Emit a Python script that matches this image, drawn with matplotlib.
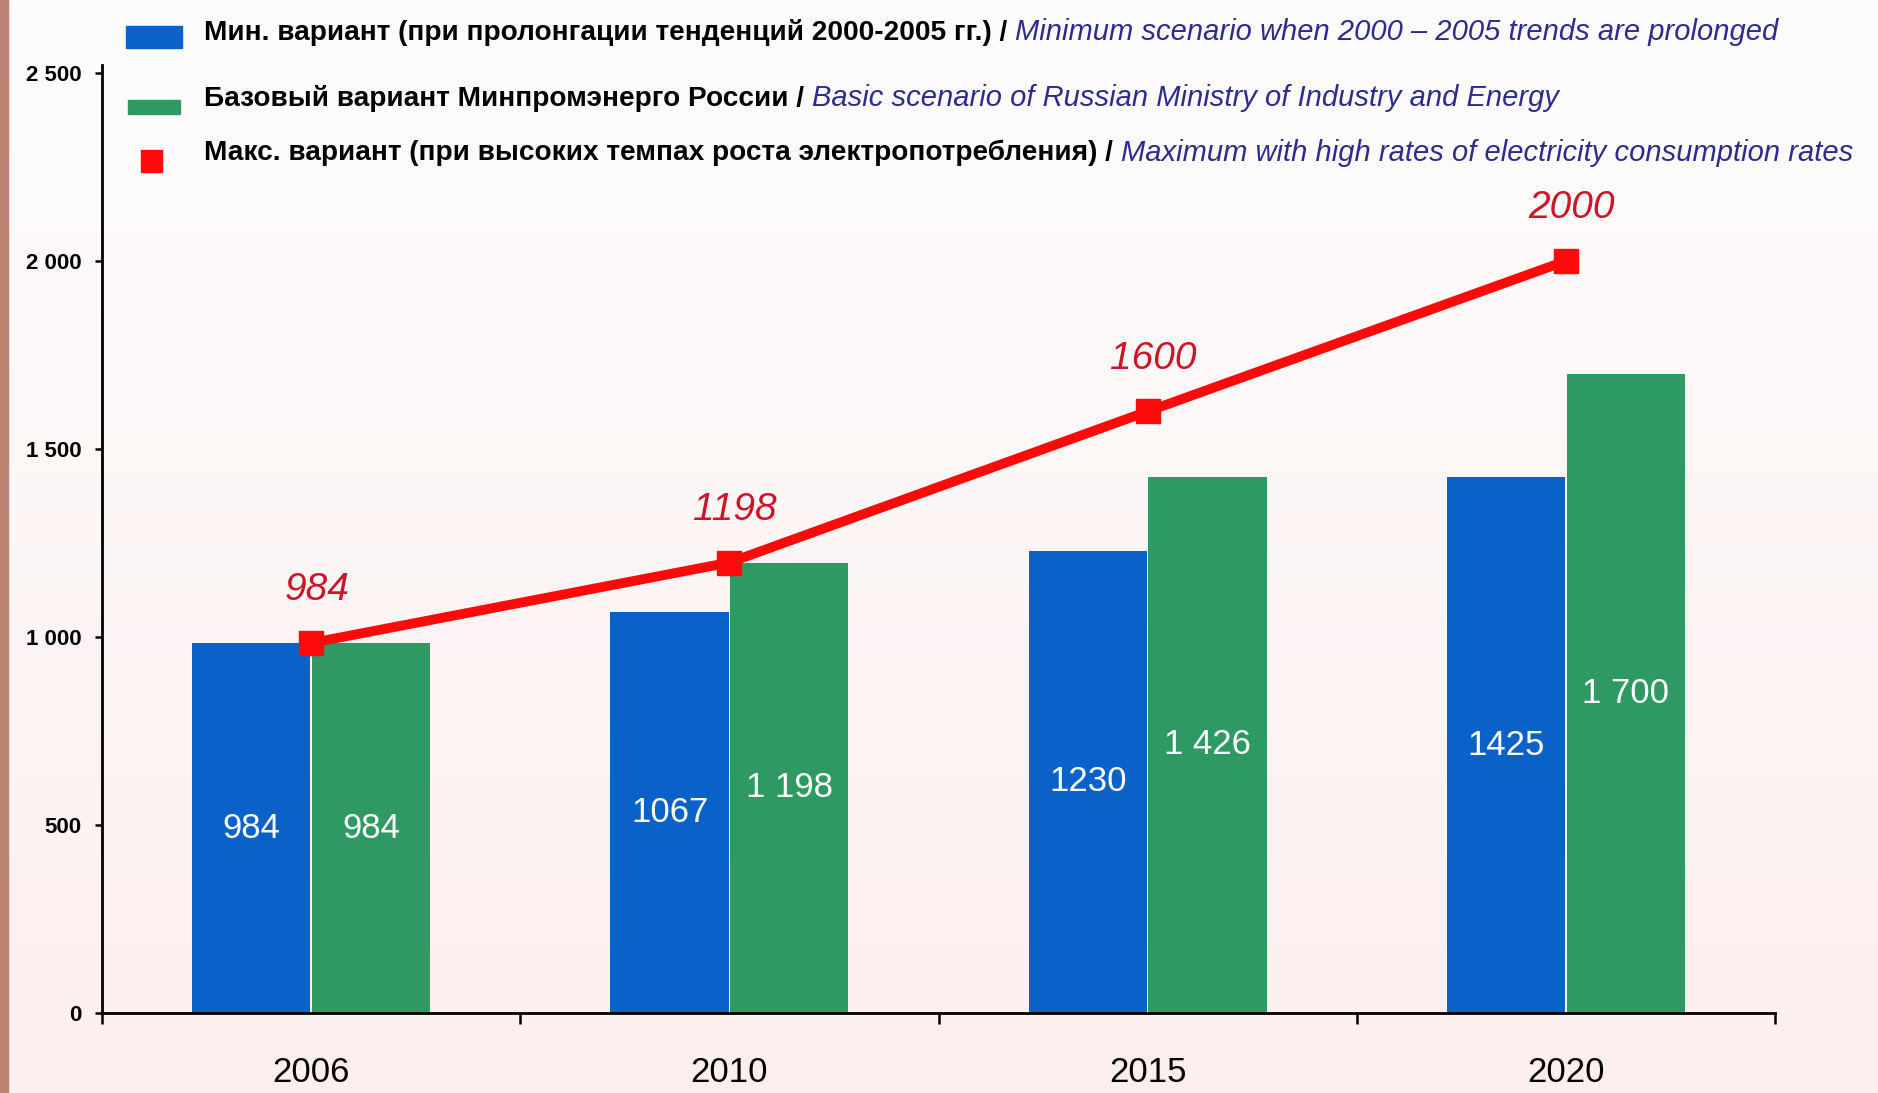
import matplotlib
matplotlib.use('Agg')
import matplotlib.pyplot as plt
import numpy as np
from matplotlib.patches import Rectangle
from matplotlib.colors import LinearSegmentedColormap

# data
years = ['2006', '2010', '2015', '2020']
min_vals = [984, 1067, 1230, 1425]
base_vals = [984, 1198, 1426, 1700]
max_vals = [984, 1198, 1600, 2000]
min_labels = ['984', '1067', '1230', '1425']
base_labels = ['984', '1 198', '1 426', '1 700']
max_labels = ['984', '1198', '1600', '2000']
yticks = [0, 500, 1000, 1500, 2000, 2500]
ytick_labels = ['0', '500', '1 000', '1 500', '2 000', '2 500']

legend_ru = ['Мин. вариант (при пролонгации тенденций 2000-2005 гг.) / ',
             'Базовый вариант Минпромэнерго России / ',
             'Макс. вариант (при высоких темпах роста электропотребления) / ']
legend_en = ['Minimum scenario when 2000 – 2005 trends are prolonged',
             'Basic scenario of Russian Ministry of Industry and Energy',
             'Maximum with high rates of electricity consumption rates']

BLUE = '#0a62c8'
GREEN = '#2f9964'
RED = '#ff0a0a'
FONT = ['Liberation Sans', 'DejaVu Sans']

W, H = 1878, 1093
fig = plt.figure(figsize=(W / 100, H / 100), dpi=100)
fig.patch.set_facecolor('#fdf6f5')

# background gradient + left strip
bg = fig.add_axes([0, 0, 1, 1], zorder=-10)
grad = np.linspace(0, 1, 256).reshape(-1, 1)
cm = LinearSegmentedColormap.from_list('bg', ['#fefdfd', '#fcefee'])
bg.imshow(grad, aspect='auto', cmap=cm, extent=[0, 1, 0, 1], origin='upper')
bg.add_patch(Rectangle((0, 0), 8 / W, 1, color='#bb8272'))
bg.set_xlim(0, 1)
bg.set_ylim(0, 1)
bg.axis('off')

# main axes
left, right = 102 / W, 1775 / W
bottom = 1 - 1013 / H
ytop = 2520
top_px = 1013 - (1013 - 73) * ytop / 2500
ax = fig.add_axes([left, bottom, right - left, (1013 - top_px) / H])
ax.set_facecolor('none')

x = np.arange(len(years))
bw = 0.283
off = 0.143
ax.bar(x - off, min_vals, bw, color=BLUE, zorder=2)
ax.bar(x + off, base_vals, bw, color=GREEN, zorder=2)

for xi, v, s in zip(x, min_vals, min_labels):
    ax.text(xi - off, v / 2, s, color='white', ha='center', va='center',
            fontsize=25, family=FONT, zorder=4)
for xi, v, s in zip(x, base_vals, base_labels):
    ax.text(xi + off, v / 2, s, color='white', ha='center', va='center',
            fontsize=25, family=FONT, zorder=4)

ax.plot(x, max_vals, color=RED, lw=7, marker='s', markersize=17,
        solid_capstyle='butt', zorder=5)
for xi, v, s in zip(x, max_vals, max_labels):
    ax.annotate(s, (xi, v), xytext=(4, 38), textcoords='offset points',
                ha='center', va='center', color='#cc1628', fontsize=28,
                style='italic', family=FONT, zorder=6)

ax.set_xlim(-0.5, len(years) - 0.5)
ax.set_ylim(0, ytop)
ax.set_yticks(yticks)
ax.set_yticklabels(ytick_labels, family=FONT, fontweight='bold', fontsize=16)
ax.tick_params(axis='y', direction='out', length=5, width=1.8, pad=10)

ax.set_xticks(np.arange(len(years) + 1) - 0.5)
ax.set_xticklabels([])
ax.set_xticks(x, minor=True)
ax.set_xticklabels(years, minor=True, fontsize=25, family=FONT)
ax.tick_params(axis='x', which='major', direction='out', length=8, width=1.8)
ax.tick_params(axis='x', which='minor', length=0, pad=31)

for s in ['top', 'right']:
    ax.spines[s].set_visible(False)
for s in ['left', 'bottom']:
    ax.spines[s].set_linewidth(2)
    ax.spines[s].set_color('black')

# legend drawn by hand at the top
lx = 204 / W
rows_y = [32, 98, 153]
fig.patches.append(Rectangle((126 / W, 1 - 48 / H), 56 / W, 22 / H,
                             transform=fig.transFigure, color=BLUE))
fig.patches.append(Rectangle((128 / W, 1 - 114 / H), 52 / W, 14 / H,
                             transform=fig.transFigure, color=GREEN))
fig.patches.append(Rectangle((141 / W, 1 - 172 / H), 21 / W, 22 / H,
                             transform=fig.transFigure, color=RED))

fig.canvas.draw()
renderer = fig.canvas.get_renderer()
for ru, en, yp in zip(legend_ru, legend_en, rows_y):
    t = fig.text(lx, 1 - yp / H, ru, ha='left', va='center', fontsize=20.2,
                 family=FONT, fontweight='bold', color='black')
    bb = t.get_window_extent(renderer)
    fig.text(bb.x1 / W, 1 - yp / H, en, ha='left', va='center', fontsize=21,
             family=FONT, style='italic', color='#2c2c8e')

fig.savefig('out.png', dpi=100, facecolor=fig.get_facecolor())
